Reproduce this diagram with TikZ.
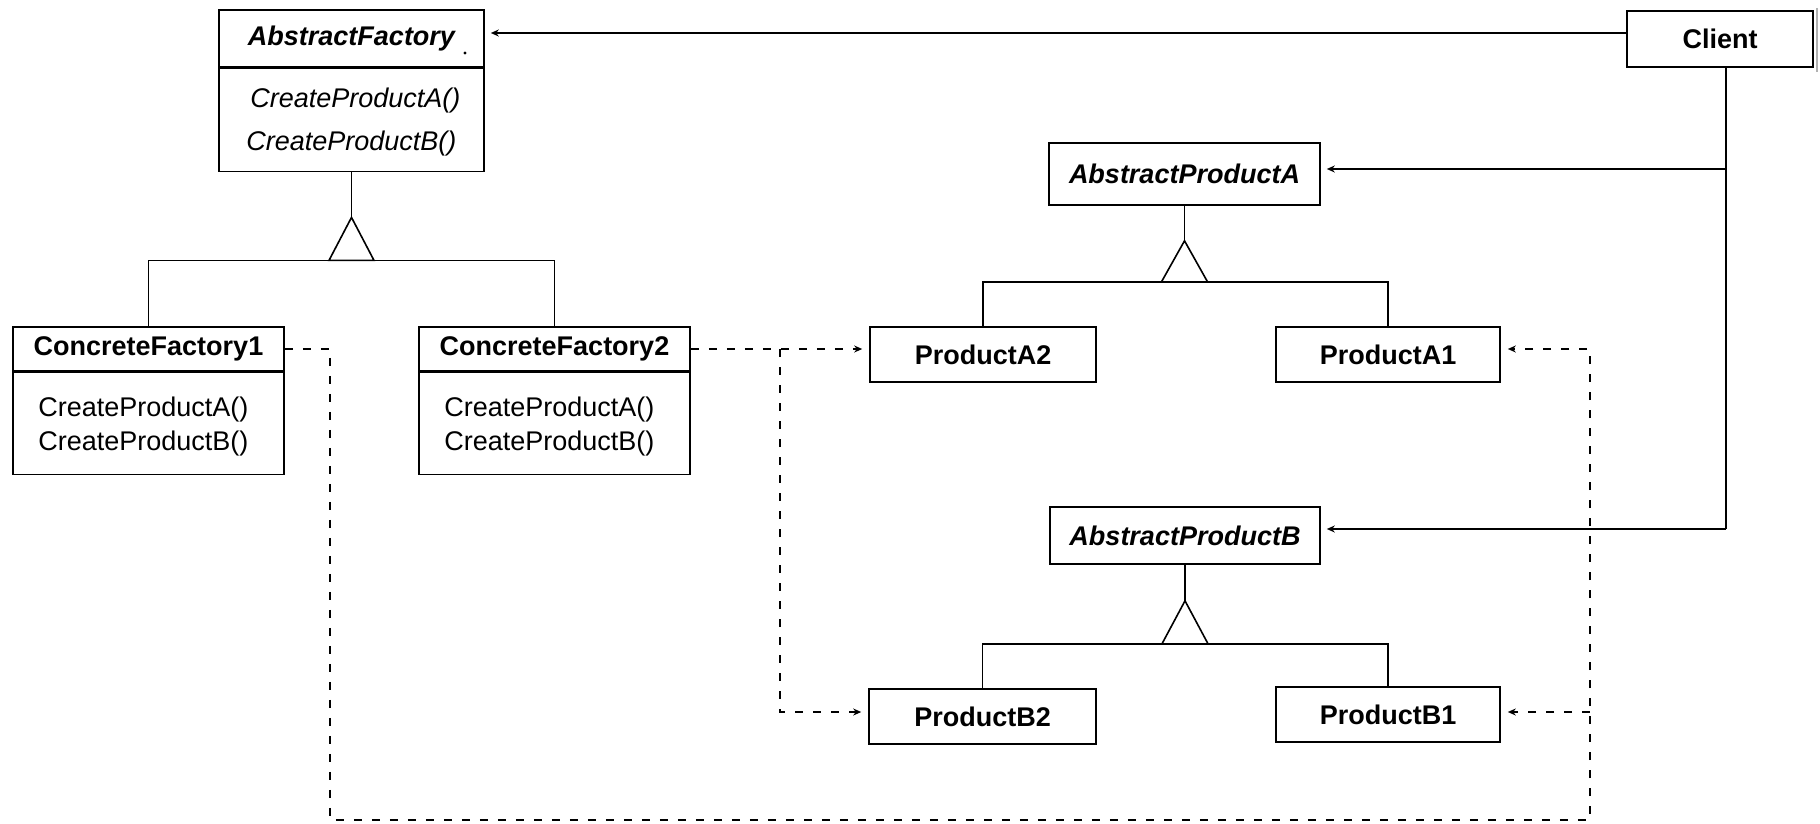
\documentclass[tikz,border=0pt]{standalone}
\usepackage{fontspec}
\setmainfont{Liberation Sans}
\usetikzlibrary{arrows.meta}

\tikzset{
    box/.style={draw, rectangle, inner sep=0pt, line width=0.8pt},
    title/.style={box, font=\fontsize{13.5}{16}\selectfont\bfseries},
    abstitle/.style={box, font=\fontsize{13.5}{16}\selectfont\bfseries\itshape},
    op/.style={inner sep=0pt, anchor=west, font=\fontsize{13.5}{16}\selectfont},
    absop/.style={op, font=\fontsize{13.5}{16}\selectfont\itshape},
    inherit/.style={line width=0.8pt},
    assoc/.style={line width=0.8pt, -{Stealth[length=4pt,width=3.5pt]}, shorten >=3pt},
    dep/.style={line width=0.8pt, dash pattern=on 4pt off 5pt, -{Stealth[length=4pt,width=3.5pt]}, shorten >=3.5pt}
}

\begin{document}
\begin{tikzpicture}[x=0.5pt, y=-0.5pt]
    \useasboundingbox (0,0) rectangle (1820,824);

    \node[abstitle, minimum width=132.5pt, minimum height=28.5pt] (af) at (351.5, 38.5) {AbstractFactory};
    \node[box, minimum width=132.5pt, minimum height=51.5pt, anchor=north] (afops) at (af.south) {};
    \node[absop] (afa) at (250, 101) {CreateProductA()};
    \node[absop] (afb) at (246, 144) {CreateProductB()};
    \fill (465, 53) circle (0.8pt);

    \node[title, minimum width=93pt, minimum height=28pt] (client) at (1720, 39) {Client};
    \draw[gray!60, line width=0.6pt] (1817, 8) -- (1817, 72);

    \node[title, minimum width=135.5pt, minimum height=22pt] (cf1) at (148.5, 349) {ConcreteFactory1};
    \node[box, minimum width=135.5pt, minimum height=51pt, anchor=north] (cf1ops) at (cf1.south) {};
    \node[op] (cf1a) at (38, 410) {CreateProductA()};
    \node[op] (cf1b) at (38, 444) {CreateProductB()};

    \node[title, minimum width=135.5pt, minimum height=22pt] (cf2) at (554.5, 349) {ConcreteFactory2};
    \node[box, minimum width=135.5pt, minimum height=51pt, anchor=north] (cf2ops) at (cf2.south) {};
    \node[op] (cf2a) at (444, 410) {CreateProductA()};
    \node[op] (cf2b) at (444, 444) {CreateProductB()};

    \node[abstitle, minimum width=135.5pt, minimum height=31pt] (apa) at (1184.5, 174) {AbstractProductA};
    \node[title, minimum width=113pt, minimum height=27.5pt] (pa2) at (983, 354.5) {ProductA2};
    \node[title, minimum width=112pt, minimum height=27.5pt] (pa1) at (1388, 354.5) {ProductA1};

    \node[abstitle, minimum width=135pt, minimum height=28.5pt] (apb) at (1185, 535.5) {AbstractProductB};
    \node[title, minimum width=113.5pt, minimum height=27.5pt] (pb2) at (982.5, 716.5) {ProductB2};
    \node[title, minimum width=112pt, minimum height=27.5pt] (pb1) at (1388, 714.5) {ProductB1};

    \draw[inherit] (afops.south) -- ++(0, 45) coordinate (afTip);
    \draw[inherit] (afTip) -- ++(-22.5, 43) -- ++(45, 0) -- cycle;
    \path (afTip) ++(0, 43) coordinate (afBase);
    \draw[inherit] (cf1.north) |- (afBase) -| (cf2.north);

    \draw[inherit] (apa.south) -- ++(0, 35) coordinate (apaTip);
    \draw[inherit] (apaTip) -- ++(-23, 41) -- ++(46, 0) -- cycle;
    \path (apaTip) ++(0, 41) coordinate (apaBase);
    \draw[inherit] (pa2.north) |- (apaBase) -| (pa1.north);

    \draw[inherit] (apb.south) -- ++(0, 36) coordinate (apbTip);
    \draw[inherit] (apbTip) -- ++(-23, 43) -- ++(46, 0) -- cycle;
    \path (apbTip) ++(0, 43) coordinate (apbBase);
    \draw[inherit] (pb2.north) |- (apbBase) -| (pb1.north);

    \coordinate (clA) at (1726, 169);
    \coordinate (clB) at (1726, 529);
    \draw[assoc] (client.west |- 0,33) -- (af.east |- 0,33);
    \draw[inherit] (client.south -| clA) -- (clB);
    \draw[assoc] (clA) -- (apa.east |- clA);
    \draw[assoc] (clB) -- (apb.east |- clB);

    \coordinate (depL) at (330, 820);
    \coordinate (depR) at (1590, 820);
    \coordinate (depM) at (780, 349);
    \draw[dep] (cf1.east) -| (depL) -- (depR) |- (pa1.east |- 0,349);
    \draw[dep] (depR |- 0,712) -- (pb1.east |- 0,712);
    \draw[dep] (cf2.east) -- (pa2.west |- cf2.east);
    \draw[dep] (depM) |- (pb2.west |- 0,712);
\end{tikzpicture}
\end{document}
